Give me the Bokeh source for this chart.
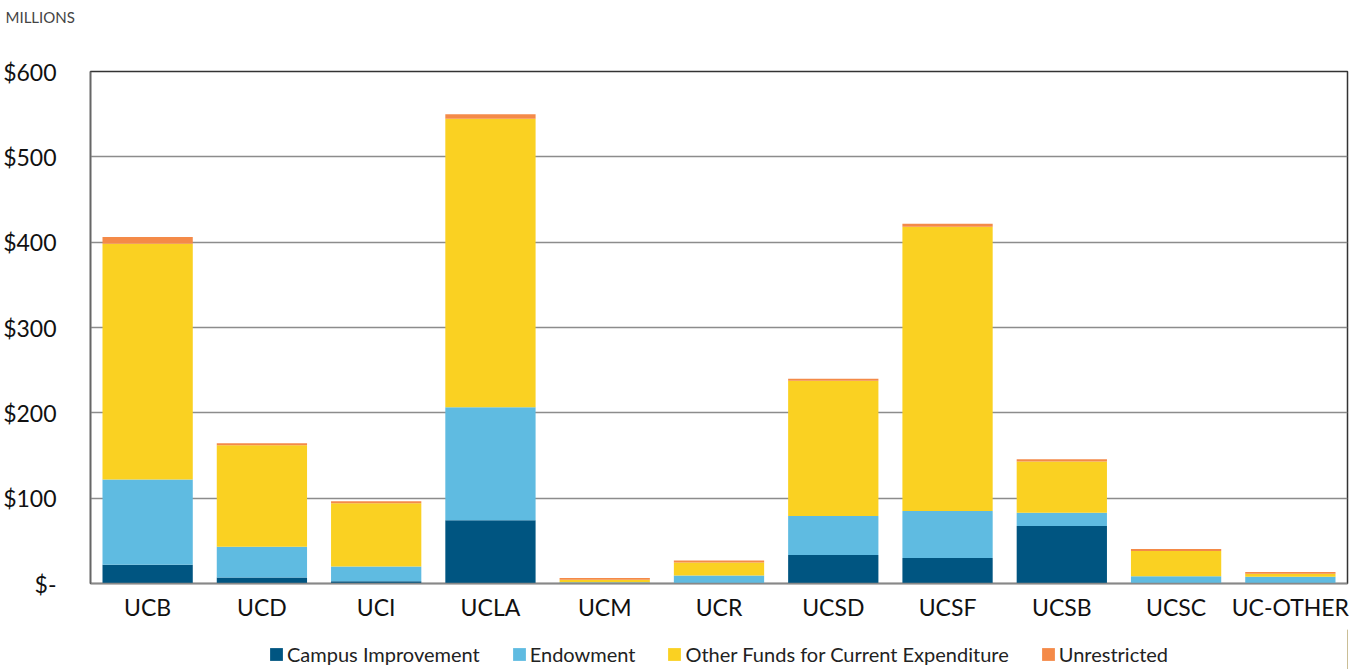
from bokeh.plotting import figure
from bokeh.models import ColumnDataSource, Legend, LegendItem, FixedTicker
from bokeh.layouts import column
from bokeh.embed import file_html
from bokeh.resources import INLINE

campuses = ["UCB", "UCD", "UCI", "UCLA", "UCM", "UCR", "UCSD", "UCSF", "UCSB", "UCSC", "UC-OTHER"]
campus_improvement = [22, 7, 2.5, 74, 1, 0.5, 33.5, 30, 67.5, 0.5, 0]
endowment = [100, 36, 17.5, 132.5, 0.5, 9, 45.5, 55, 15.5, 8, 8]
other_funds = [276, 119, 74, 338, 3, 15, 158.5, 333, 60, 29.5, 3.5]
unrestricted = [8, 2.5, 2.5, 5.5, 2, 2.5, 2.5, 3.5, 2.5, 2.5, 2]

series = ["campus", "endow", "other", "unres"]
series_names = ["Campus Improvement", "Endowment", "Other Funds for Current Expenditure", "Unrestricted"]
colors = ["#005581", "#5FBBE1", "#FAD122", "#F48A48"]
y_ticks = [0, 100, 200, 300, 400, 500, 600]
y_tick_labels = ["$-", "$100", "$200", "$300", "$400", "$500", "$600"]

FONT = "Lato"

src = ColumnDataSource(dict(x=campuses, campus=campus_improvement, endow=endowment,
                            other=other_funds, unres=unrestricted))


def blank_strip(h, **kw):
    f = figure(width=1368, height=h, x_range=(0, 1), y_range=(0, 1),
               output_backend="svg", toolbar_location=None,
               x_axis_location=None, y_axis_location=None,
               min_border_left=0, min_border_right=0, min_border_bottom=0, **kw)
    f.outline_line_color = None
    f.xgrid.grid_line_color = None
    f.ygrid.grid_line_color = None
    return f


# header strip with the unit note
hdr = blank_strip(34, title="MILLIONS", min_border_top=30)
hdr.title.text_font = FONT
hdr.title.text_font_size = "15px"
hdr.title.text_font_style = "normal"
hdr.title.text_color = "#444444"
hdr.title.offset = -85
hdr.title.standoff = 11

p = figure(x_range=campuses, y_range=(0, 600), width=1368, height=595,
           output_backend="svg", toolbar_location=None,
           min_border_left=90, min_border_right=21, min_border_top=37, min_border_bottom=46)

renderers = p.vbar_stack(series, x="x", width=0.79, color=colors, source=src, line_width=0)

p.xgrid.grid_line_color = None
p.ygrid.grid_line_color = "#8c8c8c"
p.ygrid.grid_line_width = 1.5
p.yaxis.ticker = FixedTicker(ticks=y_ticks)
p.yaxis.major_label_overrides = {t: l for t, l in zip(y_ticks, y_tick_labels)}
p.yaxis.major_tick_line_color = None
p.yaxis.minor_tick_line_color = None
p.yaxis.axis_line_color = "#666666"
p.yaxis.axis_line_width = 1.5
p.yaxis.major_label_text_font = FONT
p.yaxis.major_label_text_font_size = "23px"
p.yaxis.major_label_text_color = "#111111"
p.yaxis.major_label_standoff = 28

p.xaxis.major_tick_line_color = None
p.xaxis.axis_line_color = "#888888"
p.xaxis.axis_line_width = 1.5
p.xaxis.major_label_text_font = FONT
p.xaxis.major_label_text_font_size = "23px"
p.xaxis.major_label_text_color = "#111111"
p.xaxis.major_label_standoff = 3

p.outline_line_color = "#333333"
p.outline_line_width = 1.5

# legend strip below the chart (its swatch renderers sit outside the visible range)
lg = blank_strip(40, min_border_top=0)
legend_renderers = [lg.vbar(x=[5], top=[1], width=0.5, fill_color=c, line_color=None) for c in colors]

items = [LegendItem(label=n, renderers=[r]) for n, r in zip(series_names, legend_renderers)]
legend = Legend(items=items, orientation="horizontal", location=(178, 3),
                label_text_font=FONT, label_text_font_size="20px", label_text_color="#222222",
                glyph_width=16, glyph_height=16, label_standoff=3, spacing=31,
                label_height=18, border_line_color=None, background_fill_alpha=0,
                padding=0, margin=0)
lg.add_layout(legend, "center")

layout = column(hdr, p, lg, spacing=0)
open("out.html", "w").write(file_html(layout, INLINE))
